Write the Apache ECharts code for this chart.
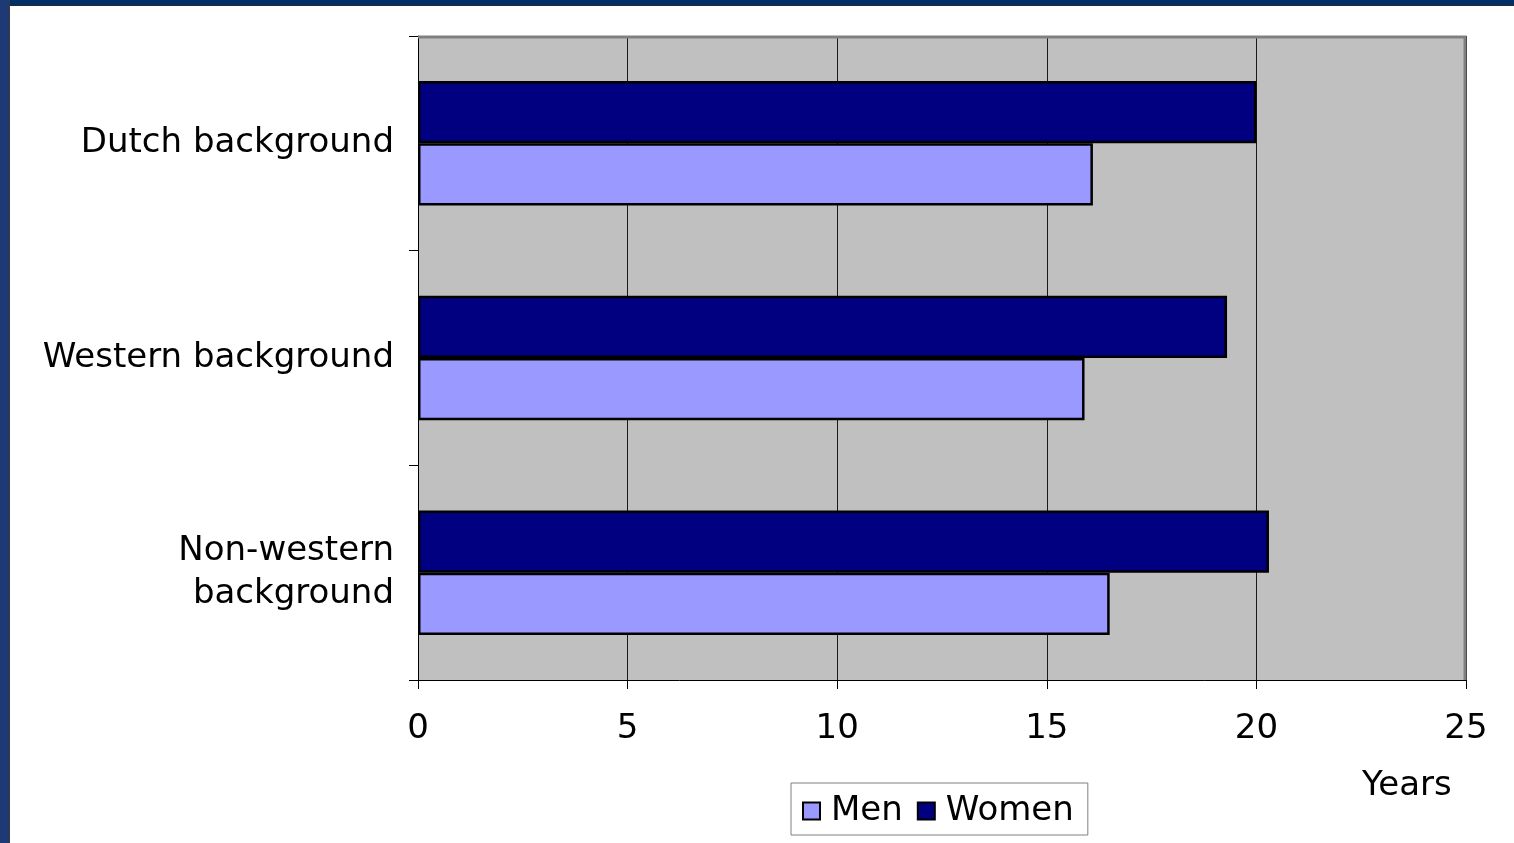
<!DOCTYPE html>
<html>
<head>
<meta charset="utf-8">
<script src="https://cdn.jsdelivr.net/npm/echarts@6/dist/echarts.min.js"></script>
<style>
  html, body { margin: 0; padding: 0; background: #fff; }
  #chart { position: absolute; left: 0; top: 0; width: 1514px; height: 843px; }
  .frame-top { position: absolute; left: 0; top: 0; width: 1514px; height: 5px; background: #003068; border-bottom: 1px solid #2a2a2a; }
  .frame-left { position: absolute; left: 0; top: 0; width: 9px; height: 843px; background: #1d3a74; border-right: 1px solid #3a3a3a; }
</style>
</head>
<body>
<div id="chart"></div>
<div class="frame-top"></div>
<div class="frame-left"></div>
<script>
// Age (years) by background and sex
const categories = ['Dutch background', 'Western background', 'Non-western\nbackground'];
const menValues = [16.1, 15.9, 16.5];
const womenValues = [20.0, 19.3, 20.3];
const xTicks = { min: 0, max: 25, interval: 5 };
const axisTitle = 'Years';

const FONT = 'DejaVu Sans';
const chart = echarts.init(document.getElementById('chart'), null, { renderer: 'canvas' });

chart.setOption({
  animation: false,
  backgroundColor: 'transparent',
  grid: { left: 418, top: 36, right: 48, bottom: 163, containLabel: false,
          show: true, backgroundColor: '#C0C0C0', borderWidth: 0 },
  legend: {
    data: ['Men', 'Women'],
    left: 791, top: 783,
    orient: 'horizontal',
    backgroundColor: '#fff',
    borderColor: '#808080', borderWidth: 1,
    padding: [11, 14, 7, 11],
    itemWidth: 17, itemHeight: 17, itemGap: 14,
    icon: 'rect',
    itemStyle: { borderColor: '#000', borderWidth: 2 },
    textStyle: { fontFamily: FONT, fontSize: 34, color: '#000', padding: [0, 0, 0, 6] }
  },
  xAxis: {
    type: 'value',
    min: xTicks.min, max: xTicks.max, interval: xTicks.interval,
    axisLine: { show: true, lineStyle: { color: '#000', width: 1 } },
    axisTick: { show: true, length: 9, lineStyle: { color: '#000' } },
    axisLabel: { fontFamily: FONT, fontSize: 34, color: '#000', margin: 32 },
    splitLine: { show: true, lineStyle: { color: '#1a1a1a', width: 1 } }
  },
  yAxis: {
    type: 'category',
    data: categories,
    inverse: true,
    axisLine: { show: true, lineStyle: { color: '#000', width: 1 } },
    axisTick: { show: true, length: 9, lineStyle: { color: '#000' } },
    axisLabel: { fontFamily: FONT, fontSize: 34, color: '#000', margin: 24, lineHeight: 43, align: 'right',
                 padding: [8, 0, 0, 0] },
    splitLine: { show: false }
  },
  graphic: [
    // plot frame on the top and right
    { type: 'polyline', silent: true, z: 10,
      shape: { points: [[418, 37], [1465, 37], [1465, 680]] },
      style: { stroke: '#808080', lineWidth: 3, fill: null } },
    { type: 'text', left: 1362, top: 769, silent: true,
      style: { text: axisTitle, font: '34px "DejaVu Sans"', fill: '#000' } }
  ],
  series: [
    { name: 'Women', type: 'bar', data: womenValues,
      barGap: '0%', barCategoryGap: '42%',
      itemStyle: { color: '#000080', borderColor: '#000', borderWidth: 2.5 } },
    { name: 'Men', type: 'bar', data: menValues,
      barGap: '0%', barCategoryGap: '42%',
      itemStyle: { color: '#9999FF', borderColor: '#000', borderWidth: 2.5 } }
  ]
});
</script>
</body>
</html>
